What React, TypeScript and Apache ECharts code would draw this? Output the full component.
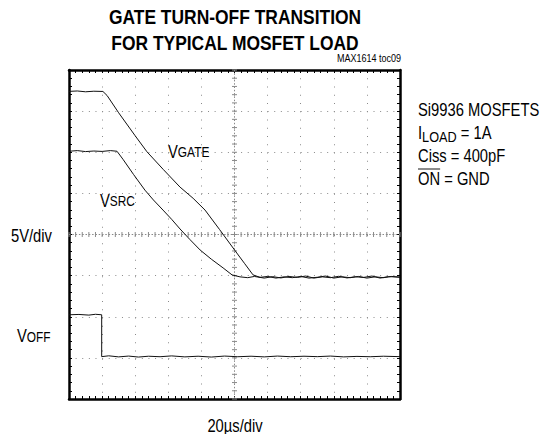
import { useEffect, useRef } from "react";
import * as echarts from "echarts";

// Axis ranges: 20µs/div horizontally (10 div), 5V/div vertically (8 div)
const X_MIN = 0;
const X_MAX = 200;
const X_DIV = 20;
const Y_MIN = -20;
const Y_MAX = 20;
const Y_DIV = 5;

// Traces: [time µs, volts]
const vgateData: number[][] = [
  [0, 17.4], [5, 17.45], [10, 17.35], [15, 17.42], [20.5, 17.39], [23, 16.9],
  [30, 14.8], [40, 12.0], [47.1, 10.06], [57, 7.9], [67.1, 5.76], [75, 4.4],
  [82.2, 2.97], [91, 0.6], [100.9, -2.12], [106, -3.5], [111.2, -4.91], [115.4, -5.21],
  [120, -5.1], [125, -5.3], [130, -5.15], [135, -5.25], [140, -5.1], [145, -5.3],
  [150, -5.2], [155, -5.05], [160, -5.3], [165, -5.15], [170, -5.25], [175, -5.1],
  [180, -5.3], [185, -5.15], [190, -5.25], [195, -5.1], [200, -5.2],
];

const vsrcData: number[][] = [
  [0, 10.12], [5, 10.2], [10, 10.08], [15, 10.15], [20, 10.1], [25, 10.2], [29, 10.12],
  [32.6, 9.15], [39, 7.3], [45.9, 5.39], [51, 4.2], [56.8, 2.97], [62, 1.85],
  [67.1, 0.67], [73, -0.6], [79.2, -1.88], [86, -3.0], [93.1, -4.06], [98.5, -4.91],
  [103.3, -5.15], [108, -5.25], [112, -5.1], [118, -5.3], [123, -5.12], [128, -5.28],
  [133, -5.1], [138, -5.22], [143, -5.05], [148, -5.3], [153, -5.15], [158, -5.25],
  [163, -5.08], [168, -5.28], [173, -5.14], [178, -5.22], [183, -5.05], [188, -5.3],
  [193, -5.12], [200, -5.18],
];

const voffData: number[][] = [
  [0, -9.76], [6, -9.72], [12, -9.8], [16, -9.7], [19.75, -9.76], [19.75, -14.85],
  [24, -14.75], [30, -14.88], [36, -14.78], [42, -14.9], [48, -14.8], [55, -14.86],
  [62, -14.76], [70, -14.88], [78, -14.8], [86, -14.9], [94, -14.78], [102, -14.86],
  [110, -14.8], [118, -14.88], [126, -14.78], [134, -14.86], [142, -14.8], [150, -14.85],
  [158, -14.78], [166, -14.88], [174, -14.82], [182, -14.86], [190, -14.8], [200, -14.85],
];

const titleLines = ["GATE TURN-OFF TRANSITION", "FOR TYPICAL MOSFET LOAD"];
const figureId = "MAX1614 toc09";
const yScaleLabel = "5V/div";
const xScaleLabel = "20µs/div";
const conditionLine1 = "Si9936 MOSFETS";
const conditionLine3 = "Ciss = 400pF";

const FONT = "'Liberation Sans', Arial, sans-serif";
const NARROW = 0.82;

function txt(x: number, y: number, text: string, fontSize: number, align = "left", weight = "normal") {
  return {
    type: "text",
    x,
    y,
    style: {
      text,
      fill: "#000",
      fontSize,
      fontFamily: FONT,
      fontWeight: weight,
      align,
      verticalAlign: "middle",
      textAlign: align,
      textVerticalAlign: "middle",
    },
  };
}

// V label with smaller suffix sharing the baseline
function vLabel(x: number, baseline: number, sub: string) {
  const fs = 18;
  const sfs = 14.5;
  return {
    type: "group",
    x,
    y: 0,
    scaleX: NARROW,
    children: [
      txt(0, baseline - 0.358 * fs, "V", fs),
      txt(0.667 * fs, baseline - 0.358 * sfs, sub, sfs),
    ],
  };
}

export default function App() {
  const ref = useRef<HTMLDivElement>(null);

  useEffect(() => {
    if (!ref.current) return;
    const chart = echarts.init(ref.current, undefined, { renderer: "svg" });

    const axisCommon = {
      type: "value",
      axisLine: { show: true, onZero: false, lineStyle: { color: "#000", width: 2.5 } },
      axisTick: { show: true, inside: true, length: 3, lineStyle: { color: "#000", width: 1 } },
      minorTick: { show: true, splitNumber: 5, length: 3, lineStyle: { color: "#000", width: 1 } },
      axisLabel: { show: false },
    };

    const option: any = {
      animation: false,
      backgroundColor: "#fff",
      grid: { left: 69, top: 70, right: 141, bottom: 35, containLabel: false },
      xAxis: [
        {
          ...axisCommon,
          position: "bottom",
          min: X_MIN,
          max: X_MAX,
          interval: X_DIV,
          splitLine: { show: true, lineStyle: { color: "#8a8a8a", width: 1, type: [1, 7.25] } },
        },
        { ...axisCommon, position: "top", min: X_MIN, max: X_MAX, interval: X_DIV, splitLine: { show: false } },
      ],
      yAxis: [
        {
          ...axisCommon,
          position: "left",
          min: Y_MIN,
          max: Y_MAX,
          interval: Y_DIV,
          splitLine: { show: true, lineStyle: { color: "#8a8a8a", width: 1, type: [1, 5.62] } },
        },
        { ...axisCommon, position: "right", min: Y_MIN, max: Y_MAX, interval: Y_DIV, splitLine: { show: false } },
      ],
      series: [
        {
          type: "custom",
          name: "graticule",
          silent: true,
          z: 1,
          data: [[(X_MIN + X_MAX) / 2, 0]],
          renderItem: (_p: any, api: any) => {
            const [cx, cy] = api.coord([(X_MIN + X_MAX) / 2, 0]);
            const [xl, yt] = api.coord([X_MIN, Y_MAX]);
            const [xr, yb] = api.coord([X_MAX, Y_MIN]);
            const st = { stroke: "#8a8a8a", lineWidth: 1 };
            const children: any[] = [
              { type: "line", shape: { x1: xl, y1: cy, x2: xr, y2: cy }, style: { ...st, lineDash: [1.5, 1.8] } },
              { type: "line", shape: { x1: cx, y1: yt, x2: cx, y2: yb }, style: { ...st, lineDash: [1.5, 1.8] } },
            ];
            for (let v = X_MIN; v <= X_MAX; v += X_DIV / 5) {
              const [px] = api.coord([v, 0]);
              children.push({ type: "line", shape: { x1: px, y1: cy - 2.5, x2: px, y2: cy + 2.5 }, style: st });
            }
            for (let v = Y_MIN; v <= Y_MAX; v += Y_DIV / 5) {
              const [, py] = api.coord([0, v]);
              children.push({ type: "line", shape: { x1: cx - 2.5, y1: py, x2: cx + 2.5, y2: py }, style: st });
            }
            return { type: "group", children };
          },
        },
        {
          type: "line",
          name: "VGATE",
          data: vgateData,
          showSymbol: false,
          z: 3,
          lineStyle: { color: "#111", width: 1 },
        },
        {
          type: "line",
          name: "VSRC",
          data: vsrcData,
          showSymbol: false,
          z: 3,
          lineStyle: { color: "#111", width: 1 },
        },
        {
          type: "line",
          name: "VOFF",
          data: voffData,
          showSymbol: false,
          z: 3,
          lineStyle: { color: "#111", width: 1 },
        },
      ],
      graphic: [
        {
          type: "group",
          x: 235,
          y: 0,
          scaleX: 0.83,
          children: [
            txt(0, 17, titleLines[0], 21, "center", "bold"),
            txt(0, 42.5, titleLines[1], 21, "center", "bold"),
          ],
        },
        { type: "group", x: 401, y: 0, scaleX: NARROW, children: [txt(0, 58, figureId, 11, "right")] },
        { type: "group", x: 11, y: 0, scaleX: NARROW, children: [txt(0, 235, yScaleLabel, 18)] },
        { type: "group", x: 235, y: 0, scaleX: NARROW, children: [txt(0, 425, xScaleLabel, 18, "center")] },
        vLabel(168, 157.5, "GATE"),
        vLabel(100, 206.5, "SRC"),
        vLabel(17, 342, "OFF"),
        {
          type: "group",
          x: 418,
          y: 0,
          scaleX: NARROW,
          children: [
            txt(0, 109, conditionLine1, 18),
            txt(0, 132, "I", 18),
            txt(5, 142 - 0.358 * 15.5, "LOAD", 15.5),
            txt(5 + 2.723 * 15.5, 132, " = 1A", 18),
            txt(0, 155, conditionLine3, 18),
            txt(0, 178, "ON = GND", 18),
            {
              type: "line",
              shape: { x1: 0, y1: 169, x2: 27, y2: 169 },
              style: { stroke: "#000", lineWidth: 1 },
            },
          ],
        },
      ],
    };

    chart.setOption(option);
    return () => chart.dispose();
  }, []);

  return (
    <div
      ref={ref}
      style={{ position: "fixed", left: 0, top: 0, width: 541, height: 434, background: "#fff" }}
    />
  );
}
